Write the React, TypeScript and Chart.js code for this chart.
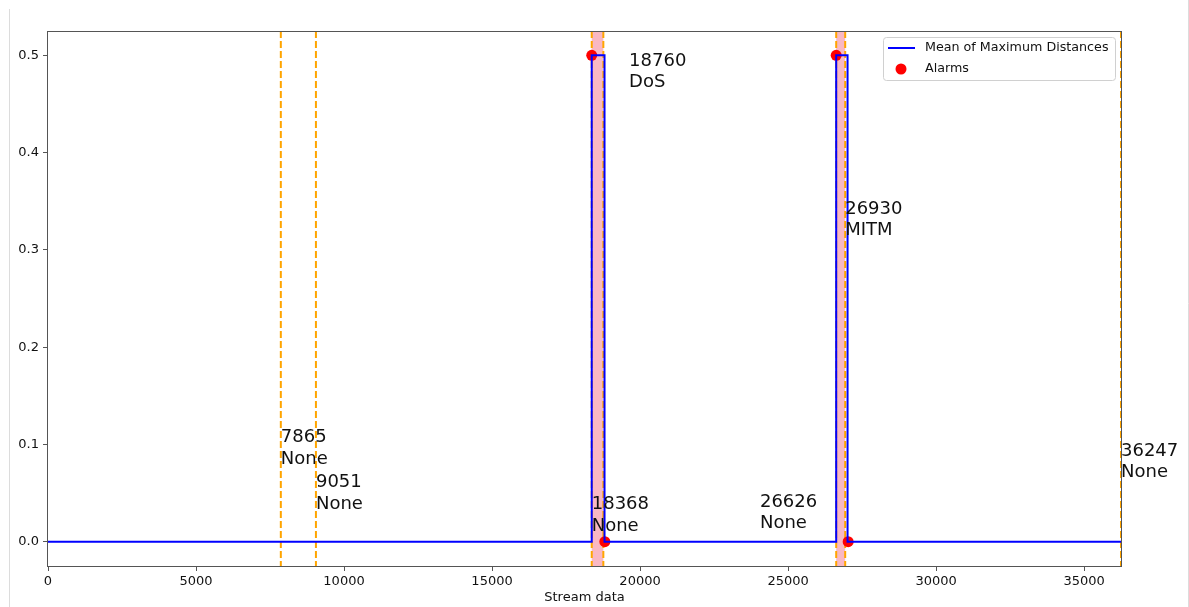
import React, { useEffect, useRef } from "react";
import { Chart, registerables } from "chart.js";

Chart.register(...registerables);

// Step series: mean of maximum distances (value holds until next x)
const streamX = [0, 18368, 18800, 26626, 27010, 36247];
const streamY = [0, 0.5, 0, 0.5, 0, 0];

// Alarm points
const alarmX = [18368, 18810, 26626, 27030];
const alarmY = [0.5, 0, 0.5, 0];

// Vertical event markers
const eventX = [7865, 9051, 18368, 18760, 26626, 26930, 36247];
const eventLabels = ["None", "None", "None", "DoS", "None", "MITM", "None"];
const labelX = [7865, 9051, 18368, 19630, 24050, 26930, 36247];
const labelY = [0.08, 0.034, 0.011, 0.467, 0.014, 0.315, 0.066];

// Shaded attack windows
const spanStart = [18368, 26626];
const spanEnd = [18760, 26930];

// Axis ticks
const xTickValues = [0, 5000, 10000, 15000, 20000, 25000, 30000, 35000];
const yTickValues = [0, 0.1, 0.2, 0.3, 0.4, 0.5];
const xMax = 36247;
const yMin = -0.025;
const yMax = 0.525;

const FONT = "'DejaVu Sans', sans-serif";

const overlayPlugin = {
  id: "overlay",
  beforeDraw(chart: any) {
    const ctx = chart.ctx;
    ctx.save();
    ctx.fillStyle = "#fff";
    ctx.fillRect(0, 0, chart.width, chart.height);
    ctx.strokeStyle = "#dcdcdc";
    ctx.lineWidth = 1;
    ctx.beginPath();
    ctx.moveTo(9.5, 9);
    ctx.lineTo(9.5, chart.height);
    ctx.moveTo(chart.width - 0.5, 0);
    ctx.lineTo(chart.width - 0.5, chart.height);
    ctx.stroke();
    ctx.restore();
  },
  beforeDatasetsDraw(chart: any) {
    const ctx = chart.ctx;
    const xs = chart.scales.x;
    const a = chart.chartArea;
    ctx.save();
    ctx.beginPath();
    ctx.rect(a.left, a.top, a.right - a.left, a.bottom - a.top);
    ctx.clip();
    ctx.fillStyle = "#f9b8c3";
    for (let i = 0; i < spanStart.length; i++) {
      const x0 = xs.getPixelForValue(spanStart[i]);
      const x1 = xs.getPixelForValue(spanEnd[i]);
      ctx.fillRect(x0, a.top, x1 - x0, a.bottom - a.top);
    }
    ctx.strokeStyle = "#ffa500";
    ctx.lineWidth = 2;
    ctx.setLineDash([7, 3]);
    for (const v of eventX) {
      const px = xs.getPixelForValue(v);
      ctx.beginPath();
      ctx.moveTo(px, a.top);
      ctx.lineTo(px, a.bottom);
      ctx.stroke();
    }
    ctx.restore();
  },
  afterDatasetsDraw(chart: any) {
    const ctx = chart.ctx;
    const xs = chart.scales.x;
    const ys = chart.scales.y;
    const a = chart.chartArea;
    ctx.save();
    // frame
    ctx.strokeStyle = "#555";
    ctx.lineWidth = 1;
    ctx.strokeRect(a.left - 0.5, a.top + 0.5, a.right - a.left + 1, a.bottom - a.top);
    // annotations
    ctx.fillStyle = "#111";
    ctx.font = `18px ${FONT}`;
    ctx.textAlign = "left";
    ctx.textBaseline = "alphabetic";
    for (let i = 0; i < eventX.length; i++) {
      const px = xs.getPixelForValue(labelX[i]);
      const py = ys.getPixelForValue(labelY[i]);
      ctx.fillText(String(eventX[i]), px, py - 21.5);
      ctx.fillText(eventLabels[i], px, py);
    }
    // x axis title
    ctx.font = `13px ${FONT}`;
    ctx.textAlign = "center";
    ctx.textBaseline = "middle";
    ctx.fillText("Stream data", (a.left + a.right) / 2, 598);
    // legend
    const lx = 883, ly = 37, lw = 232, lh = 43;
    ctx.fillStyle = "rgba(255,255,255,0.85)";
    ctx.strokeStyle = "#d0d0d0";
    ctx.lineWidth = 1;
    ctx.beginPath();
    ctx.roundRect(lx + 0.5, ly + 0.5, lw, lh, 3);
    ctx.fill();
    ctx.stroke();
    ctx.strokeStyle = "#0000ff";
    ctx.lineWidth = 2;
    ctx.beginPath();
    ctx.moveTo(888, 48);
    ctx.lineTo(915, 48);
    ctx.stroke();
    ctx.fillStyle = "#ff0000";
    ctx.beginPath();
    ctx.arc(901, 69, 5.5, 0, Math.PI * 2);
    ctx.fill();
    ctx.fillStyle = "#111";
    ctx.textAlign = "left";
    ctx.font = `12.7px ${FONT}`;
    ctx.fillText("Mean of Maximum Distances", 925, 48);
    ctx.fillText("Alarms", 925, 69);
    ctx.restore();
  },
};

export default function App() {
  const ref = useRef<HTMLCanvasElement>(null);
  useEffect(() => {
    const canvas = ref.current;
    if (!canvas) return;
    const chart = new Chart(canvas, {
      type: "scatter",
      data: {
        datasets: [
          {
            type: "line",
            label: "Mean of Maximum Distances",
            data: streamX.map((x, i) => ({ x, y: streamY[i] })),
            borderColor: "#0000ff",
            borderWidth: 2,
            pointRadius: 0,
            stepped: true,
            fill: false,
            tension: 0,
          } as any,
          {
            type: "scatter",
            label: "Alarms",
            data: alarmX.map((x, i) => ({ x, y: alarmY[i] })),
            backgroundColor: "#ff0000",
            borderWidth: 0,
            pointRadius: 5.5,
          },
        ],
      },
      options: {
        animation: false,
        responsive: false,
        devicePixelRatio: 1,
        layout: { padding: { left: 0, right: 68, top: 31, bottom: 0 } },
        plugins: { legend: { display: false }, tooltip: { enabled: false } },
        scales: {
          x: {
            type: "linear",
            min: 0,
            max: xMax,
            border: { display: false },
            grid: { drawOnChartArea: false, drawTicks: true, tickLength: 5, color: "#555" },
            ticks: {
              color: "#111",
              padding: 3,
              maxRotation: 0,
              autoSkip: false,
              font: { family: FONT, size: 13 },
              callback: (v: any) => String(v),
            },
            afterBuildTicks: (s: any) => {
              s.ticks = xTickValues.map((value) => ({ value }));
            },
            afterFit: (s: any) => {
              s.height = 41;
            },
          },
          y: {
            type: "linear",
            min: yMin,
            max: yMax,
            border: { display: false },
            grid: { drawOnChartArea: false, drawTicks: true, tickLength: 5, color: "#555" },
            ticks: {
              color: "#111",
              padding: 4,
              autoSkip: false,
              font: { family: FONT, size: 13 },
              callback: (v: any) => Number(v).toFixed(1),
            },
            afterBuildTicks: (s: any) => {
              s.ticks = yTickValues.map((value) => ({ value }));
            },
            afterFit: (s: any) => {
              s.width = 48;
            },
          },
        },
      },
      plugins: [overlayPlugin],
    });
    return () => chart.destroy();
  }, []);
  return (
    <div style={{ position: "absolute", left: 0, top: 0, width: 1189, height: 607 }}>
      <canvas ref={ref} width={1189} height={607} />
    </div>
  );
}
